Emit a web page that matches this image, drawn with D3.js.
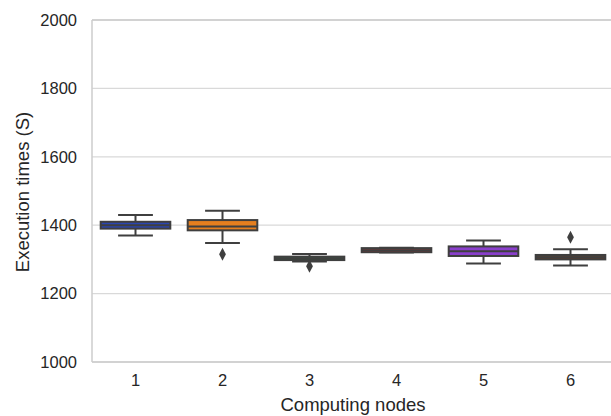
<!DOCTYPE html>
<html>
<head>
<meta charset="utf-8">
<script src="https://cdn.jsdelivr.net/npm/d3@7"></script>
<style>
  body { margin: 0; background: #fff; }
  svg { font-family: "Liberation Sans", Arial, sans-serif; }
</style>
</head>
<body>
<svg id="chart" width="611" height="416"></svg>
<script>
// Box plot of execution times per computing node
const nodes = ["1", "2", "3", "4", "5", "6"];
const q1 = [1390, 1385, 1298, 1321, 1310, 1300];
const medians = [1400, 1396, 1303, 1327, 1324, 1306];
const q3 = [1410, 1415, 1308, 1333, 1338, 1313];
const whiskLow = [1370, 1348, 1294, 1320, 1288, 1282];
const whiskHigh = [1430, 1442, 1316, 1334, 1355, 1330];
const outliers = [[], [1315], [1280], [], [], [1365]];
const colors = ["#2a45b0", "#e57f1f", "#2f8a45", "#a83030", "#8a3fcc", "#6a4028"];
const yTicks = [1000, 1200, 1400, 1600, 1800, 2000];

const margin = { top: 20, left: 92, bottom: 54, right: -3 };
const width = 611, height = 416;
const lineCol = "#3f3f3f";

const svg = d3.select("#chart");

const x = d3.scaleBand()
  .domain(nodes)
  .range([margin.left, width - margin.right]);

const y = d3.scaleLinear()
  .domain([1000, 2000])
  .range([height - margin.bottom, margin.top]);

// grid lines
svg.append("g")
  .selectAll("line")
  .data(yTicks)
  .enter()
  .append("line")
  .attr("x1", margin.left)
  .attr("x2", width - margin.right)
  .attr("y1", d => y(d))
  .attr("y2", d => y(d))
  .attr("stroke", "#d9d9d9")
  .attr("stroke-width", 1.3);

// spines
const spine = svg.append("g").attr("fill", "none").attr("stroke", "#cccccc").attr("stroke-width", 1.5);
spine.append("line")
  .attr("x1", margin.left).attr("x2", margin.left)
  .attr("y1", y(2000)).attr("y2", y(1000));
spine.append("line")
  .attr("x1", margin.left).attr("x2", width - margin.right)
  .attr("y1", y(1000)).attr("y2", y(1000));
spine.append("line")
  .attr("x1", margin.left).attr("x2", width - margin.right)
  .attr("y1", y(2000)).attr("y2", y(2000));

// y tick labels
svg.append("g")
  .selectAll("text")
  .data(yTicks)
  .enter()
  .append("text")
  .attr("x", 77)
  .attr("y", d => y(d))
  .attr("dy", "0.35em")
  .attr("text-anchor", "end")
  .attr("font-size", 16.5)
  .attr("fill", "#262626")
  .text(d => d);

// x tick labels
svg.append("g")
  .selectAll("text")
  .data(nodes)
  .enter()
  .append("text")
  .attr("x", d => x(d) + x.bandwidth() / 2)
  .attr("y", y(1000) + 24)
  .attr("text-anchor", "middle")
  .attr("font-size", 16.5)
  .attr("fill", "#262626")
  .text(d => d);

// axis titles
svg.append("text")
  .attr("x", (margin.left + width - margin.right) / 2)
  .attr("y", 411)
  .attr("text-anchor", "middle")
  .attr("font-size", 18.5)
  .attr("fill", "#262626")
  .text("Computing nodes");

svg.append("text")
  .attr("transform", "translate(29,192) rotate(-90)")
  .attr("text-anchor", "middle")
  .attr("font-size", 18.5)
  .attr("fill", "#262626")
  .text("Execution times (S)");

// boxes
const boxW = x.bandwidth() * 0.8;
const capW = boxW / 2;

const g = svg.append("g")
  .selectAll("g")
  .data(nodes)
  .enter()
  .append("g")
  .attr("transform", d => "translate(" + (x(d) + x.bandwidth() / 2) + ",0)");

g.append("line")
  .attr("x1", 0).attr("x2", 0)
  .attr("y1", (d, i) => y(whiskLow[i])).attr("y2", (d, i) => y(q1[i]))
  .attr("stroke", lineCol).attr("stroke-width", 2);
g.append("line")
  .attr("x1", 0).attr("x2", 0)
  .attr("y1", (d, i) => y(q3[i])).attr("y2", (d, i) => y(whiskHigh[i]))
  .attr("stroke", lineCol).attr("stroke-width", 2);
g.append("line")
  .attr("x1", -capW / 2).attr("x2", capW / 2)
  .attr("y1", (d, i) => y(whiskLow[i])).attr("y2", (d, i) => y(whiskLow[i]))
  .attr("stroke", lineCol).attr("stroke-width", 2);
g.append("line")
  .attr("x1", -capW / 2).attr("x2", capW / 2)
  .attr("y1", (d, i) => y(whiskHigh[i])).attr("y2", (d, i) => y(whiskHigh[i]))
  .attr("stroke", lineCol).attr("stroke-width", 2);

g.append("rect")
  .attr("x", -boxW / 2)
  .attr("width", boxW)
  .attr("y", (d, i) => y(q3[i]))
  .attr("height", (d, i) => y(q1[i]) - y(q3[i]))
  .attr("fill", (d, i) => colors[i])
  .attr("stroke", lineCol)
  .attr("stroke-width", 2);

g.append("line")
  .attr("x1", -boxW / 2).attr("x2", boxW / 2)
  .attr("y1", (d, i) => y(medians[i])).attr("y2", (d, i) => y(medians[i]))
  .attr("stroke", lineCol).attr("stroke-width", 2);

// outliers (diamonds)
const diamond = d3.symbol().type(d3.symbolDiamond).size(40);
g.each(function (d, i) {
  d3.select(this)
    .selectAll("path.out")
    .data(outliers[i])
    .enter()
    .append("path")
    .attr("class", "out")
    .attr("d", diamond)
    .attr("transform", v => "translate(0," + y(v) + ") scale(1,1.1)")
    .attr("fill", lineCol);
});
</script>
</body>
</html>
